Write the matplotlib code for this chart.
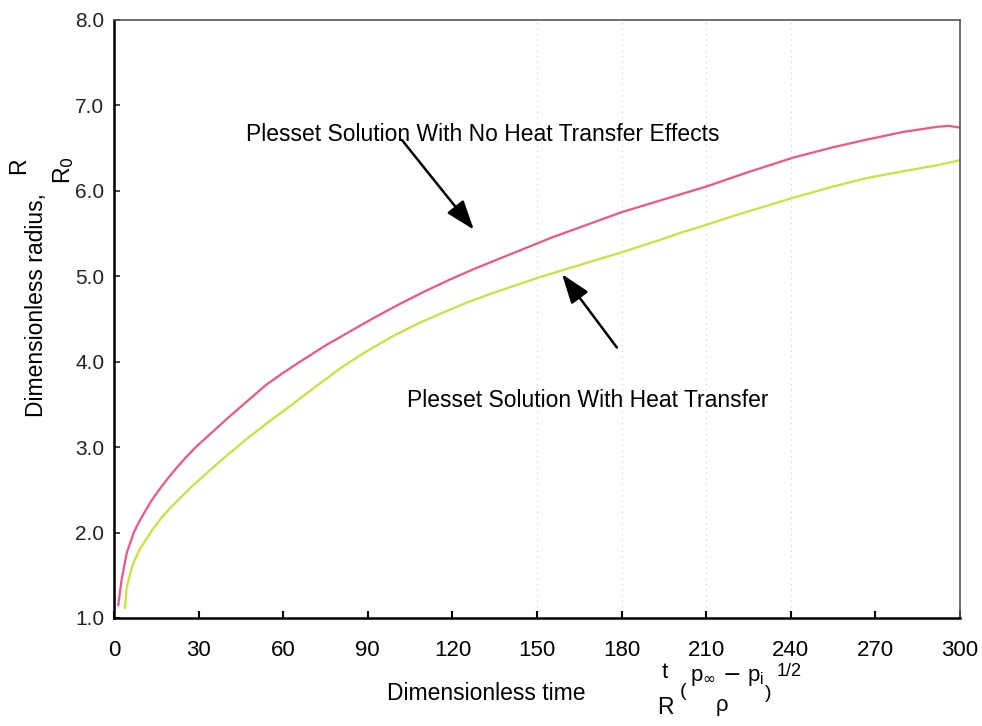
import matplotlib
matplotlib.use("Agg")
import matplotlib.pyplot as plt
import numpy as np

plt.rcParams['font.family'] = ['Liberation Sans', 'DejaVu Sans']

# Plesset solution, no heat transfer (pink)
t_noheat = [1.5, 2.7, 4.5, 7, 8.5, 10, 13, 16, 19, 22, 25.5, 29, 35, 40, 48,
            54, 60, 66, 75, 84, 92, 101, 110, 119, 128, 137, 146, 155, 165,
            180, 195, 201, 210, 225, 241, 255, 267, 280, 292, 296, 300]
r_noheat = [1.15, 1.45, 1.76, 2.0, 2.1, 2.19, 2.36, 2.5, 2.63, 2.75, 2.88, 3.0,
            3.18, 3.33, 3.56, 3.73, 3.87, 4.0, 4.19, 4.36, 4.51, 4.67, 4.82,
            4.96, 5.09, 5.21, 5.33, 5.45, 5.57, 5.75, 5.9, 5.96, 6.05, 6.22,
            6.39, 6.51, 6.60, 6.69, 6.75, 6.76, 6.74]

# Plesset solution with heat transfer (yellow-green)
t_heat = [3.9, 4.5, 6.3, 7.5, 9.2, 11, 14, 17, 20, 27, 34, 41, 48, 55, 62, 72,
          81, 90, 99, 108, 117, 125, 134, 143, 151, 158, 170, 180, 194, 201,
          208, 220, 241, 255, 267, 280, 292, 300]
r_heat = [1.12, 1.36, 1.59, 1.69, 1.81, 1.9, 2.05, 2.18, 2.29, 2.52, 2.73, 2.93,
          3.12, 3.30, 3.47, 3.72, 3.94, 4.13, 4.30, 4.45, 4.58, 4.69, 4.80,
          4.90, 4.99, 5.06, 5.18, 5.28, 5.43, 5.51, 5.58, 5.71, 5.92, 6.05,
          6.15, 6.23, 6.30, 6.36]

x_ticks = [0, 30, 60, 90, 120, 150, 180, 210, 240, 270, 300]
y_ticks = [1.0, 2.0, 3.0, 4.0, 5.0, 6.0, 7.0, 8.0]
grid_x = [150, 180, 210, 240]

fig = plt.figure(figsize=(9.82, 7.26), dpi=100)
ax = fig.add_axes([0.1161, 0.1488, 0.8615, 0.8237])

for gx in grid_x:
    ax.axvline(gx, color='#cfcfcf', lw=0.8, ls=(0, (1, 4)), zorder=0)

ax.plot(t_noheat, r_noheat, color='#f2557f', lw=1.6, solid_joinstyle='round')
ax.plot(t_heat, r_heat, color='#c9e23c', lw=1.6, solid_joinstyle='round')

ax.set_xlim(0, 300)
ax.set_ylim(1.0, 8.0)
ax.set_xticks(x_ticks)
ax.set_xticklabels([str(v) for v in x_ticks])
ax.set_yticks(y_ticks)
ax.set_yticklabels(['%.1f' % v for v in y_ticks])
ax.tick_params(axis='x', direction='in', length=5, width=1.5, pad=16, labelsize=16)
ax.tick_params(axis='y', direction='in', length=4, width=1.2, pad=7, labelsize=15,
               colors='#222222')
for s in ['left', 'bottom']:
    ax.spines[s].set_linewidth(1.8)
for s in ['top', 'right']:
    ax.spines[s].set_linewidth(1.2)
    ax.spines[s].set_color('#555555')

# annotations
ax.text(46.9, 6.66, 'Plesset Solution With No Heat Transfer Effects',
        fontsize=16.5, va='center', ha='left')
ax.annotate('', xy=(128.2, 5.52), xytext=(101.5, 6.62),
            arrowprops=dict(arrowstyle='-|>,head_length=0.9,head_width=0.32',
                            mutation_scale=20, lw=1.8, color='black'))
ax.text(104, 3.55, 'Plesset Solution With Heat Transfer', fontsize=16.5,
        va='center', ha='left')
ax.annotate('', xy=(158.3, 5.05), xytext=(178.9, 4.14),
            arrowprops=dict(arrowstyle='-|>,head_length=0.9,head_width=0.32',
                            mutation_scale=20, lw=1.8, color='black'))

# axis labels built from pieces
W, H = 982.0, 726.0
def ftext(px, py, s, **kw):
    fig.text(px / W, 1 - py / H, s, **kw)

ftext(37, 305, 'Dimensionless radius,', rotation=90, fontsize=16.5,
      ha='center', va='center')
ftext(19, 166, 'R', rotation=90, fontsize=16.5, ha='center', va='center')
ftext(64, 170, r'R$_0$', rotation=90, fontsize=16.5, ha='center', va='center')

ftext(486, 693, 'Dimensionless time', fontsize=16.5, ha='center', va='center')
ftext(665, 672, 't', fontsize=16, ha='center', va='center')
ftext(665, 708, 'R', fontsize=16.5, ha='center', va='center')
ftext(683, 692, '(', fontsize=14, ha='center', va='center')
ftext(727, 678, r'p$_\infty$ $-$ p$_\mathregular{i}$', fontsize=16, ha='center', va='center')
ftext(722, 708, r'$\mathregular{\rho}$', fontsize=16, ha='center', va='center')
ftext(768, 694, ')', fontsize=14, ha='center', va='center')
ftext(789, 672, '1/2', fontsize=13, ha='center', va='center')

fig.savefig('out.png', dpi=100)
